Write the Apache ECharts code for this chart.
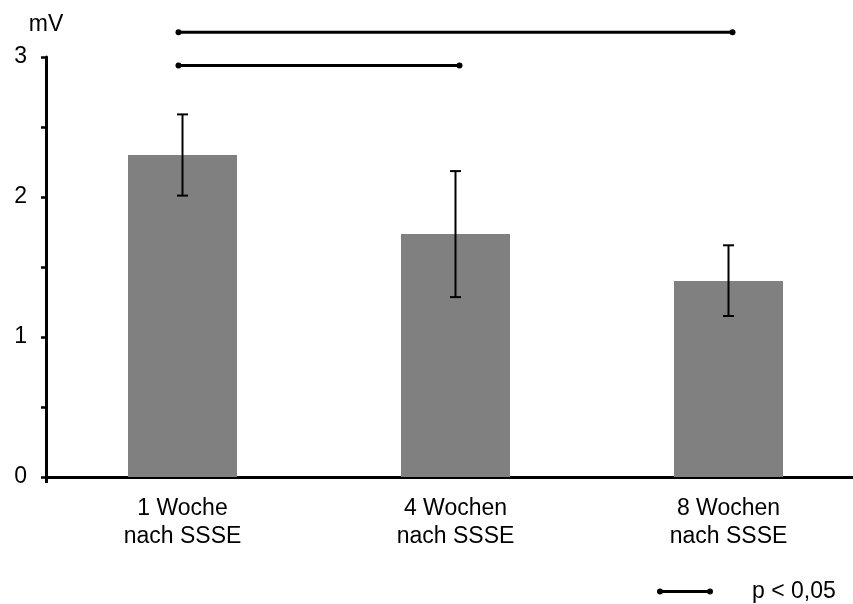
<!DOCTYPE html>
<html>
<head>
<meta charset="utf-8">
<script src="https://cdn.jsdelivr.net/npm/echarts@6/dist/echarts.min.js"></script>
<style>
  html, body { margin: 0; padding: 0; background: #fff; }
  #chart { width: 853px; height: 604px; }
</style>
</head>
<body>
<div id="chart"></div>
<script>
// Amplitude (mV) after SSSE, mean with error range
const categories = ['1 Woche\nnach SSSE', '4 Wochen\nnach SSSE', '8 Wochen\nnach SSSE'];
const means = [2.30, 1.735, 1.40];
const errLower = [2.01, 1.285, 1.15];
const errUpper = [2.59, 2.185, 1.655];
const yTicks = [0, 1, 2, 3];

// Significance brackets: from group, to group, height (mV)
const sigFrom = [0, 0];
const sigTo = [2, 1];
const sigLevel = [3.176, 2.94];
const sigLabel = 'p < 0,05';

const FONT = '"Liberation Sans", Arial, sans-serif';

const errData = categories.map((c, i) => [i, errLower[i], errUpper[i]]);
const sigData = sigFrom.map((f, i) => [f, sigTo[i], sigLevel[i]]);

const chart = echarts.init(document.getElementById('chart'), null, { renderer: 'canvas' });

chart.setOption({
  animation: false,
  backgroundColor: '#fff',
  textStyle: { fontFamily: FONT, color: '#000' },
  grid: { left: 46, top: 57, width: 819, height: 420, containLabel: false, outerBoundsMode: 'none' },
  legend: {
    left: 657,
    top: 580,
    padding: 0,
    data: [{ name: sigLabel, icon: 'path://M5,2 L51,2 L51,5 L5,5 Z M0,3.5 A3,3 0 1,1 6,3.5 A3,3 0 1,1 0,3.5 Z M50,3.5 A3,3 0 1,1 56,3.5 A3,3 0 1,1 50,3.5 Z' }],
    itemWidth: 56,
    itemHeight: 7,
    itemStyle: { color: '#000', borderWidth: 0 },
    textStyle: { fontFamily: FONT, fontSize: 23, color: '#000', padding: [0, 0, 0, 34] },
    selectedMode: false
  },
  xAxis: {
    type: 'category',
    data: categories,
    boundaryGap: true,
    axisLine: { lineStyle: { color: '#000', width: 3 } },
    axisTick: {
      show: true,
      length: 6,
      interval: function (index) { return index === 0; },
      lineStyle: { color: '#000', width: 3 }
    },
    axisLabel: {
      margin: 17,
      fontFamily: FONT,
      fontSize: 23,
      lineHeight: 28.5,
      color: '#000'
    }
  },
  yAxis: {
    type: 'value',
    min: yTicks[0],
    max: yTicks[yTicks.length - 1],
    interval: 1,
    name: 'mV',
    nameLocation: 'end',
    nameGap: 21,
    nameTextStyle: { fontFamily: FONT, fontSize: 23, color: '#000', align: 'center' },
    axisLine: { show: true, lineStyle: { color: '#000', width: 3 } },
    axisTick: { show: true, length: 5, lineStyle: { color: '#000', width: 2.5 } },
    minorTick: { show: true, splitNumber: 2, length: 5, lineStyle: { color: '#000', width: 2.5 } },
    splitLine: { show: false },
    axisLabel: { margin: 19, fontFamily: FONT, fontSize: 23, color: '#000' }
  },
  series: [
    {
      type: 'bar',
      data: means,
      barWidth: 109,
      itemStyle: { color: '#808080' },
      z: 2
    },
    {
      type: 'custom',
      data: errData,
      z: 3,
      renderItem: function (params, api) {
        const x = api.value(0);
        const lo = api.coord([x, api.value(1)]);
        const hi = api.coord([x, api.value(2)]);
        const cap = 5.5;
        const style = { stroke: '#000', lineWidth: 2 };
        return {
          type: 'group',
          children: [
            { type: 'line', shape: { x1: lo[0], y1: lo[1], x2: hi[0], y2: hi[1] }, style },
            { type: 'line', shape: { x1: hi[0] - cap, y1: hi[1], x2: hi[0] + cap, y2: hi[1] }, style },
            { type: 'line', shape: { x1: lo[0] - cap, y1: lo[1], x2: lo[0] + cap, y2: lo[1] }, style }
          ]
        };
      }
    },
    {
      type: 'custom',
      name: sigLabel,
      data: sigData,
      z: 4,
      clip: false,
      itemStyle: { color: '#000' },
      renderItem: function (params, api) {
        const a = api.coord([api.value(0), api.value(2)]);
        const b = api.coord([api.value(1), api.value(2)]);
        const over = 4;
        const x1 = a[0] - over, x2 = b[0] + over, y = a[1];
        return {
          type: 'group',
          children: [
            { type: 'line', shape: { x1: x1, y1: y, x2: x2, y2: y }, style: { stroke: '#000', lineWidth: 3 } },
            { type: 'circle', shape: { cx: x1, cy: y, r: 3 }, style: { fill: '#000' } },
            { type: 'circle', shape: { cx: x2, cy: y, r: 3 }, style: { fill: '#000' } }
          ]
        };
      }
    }
  ]
});
</script>
</body>
</html>
